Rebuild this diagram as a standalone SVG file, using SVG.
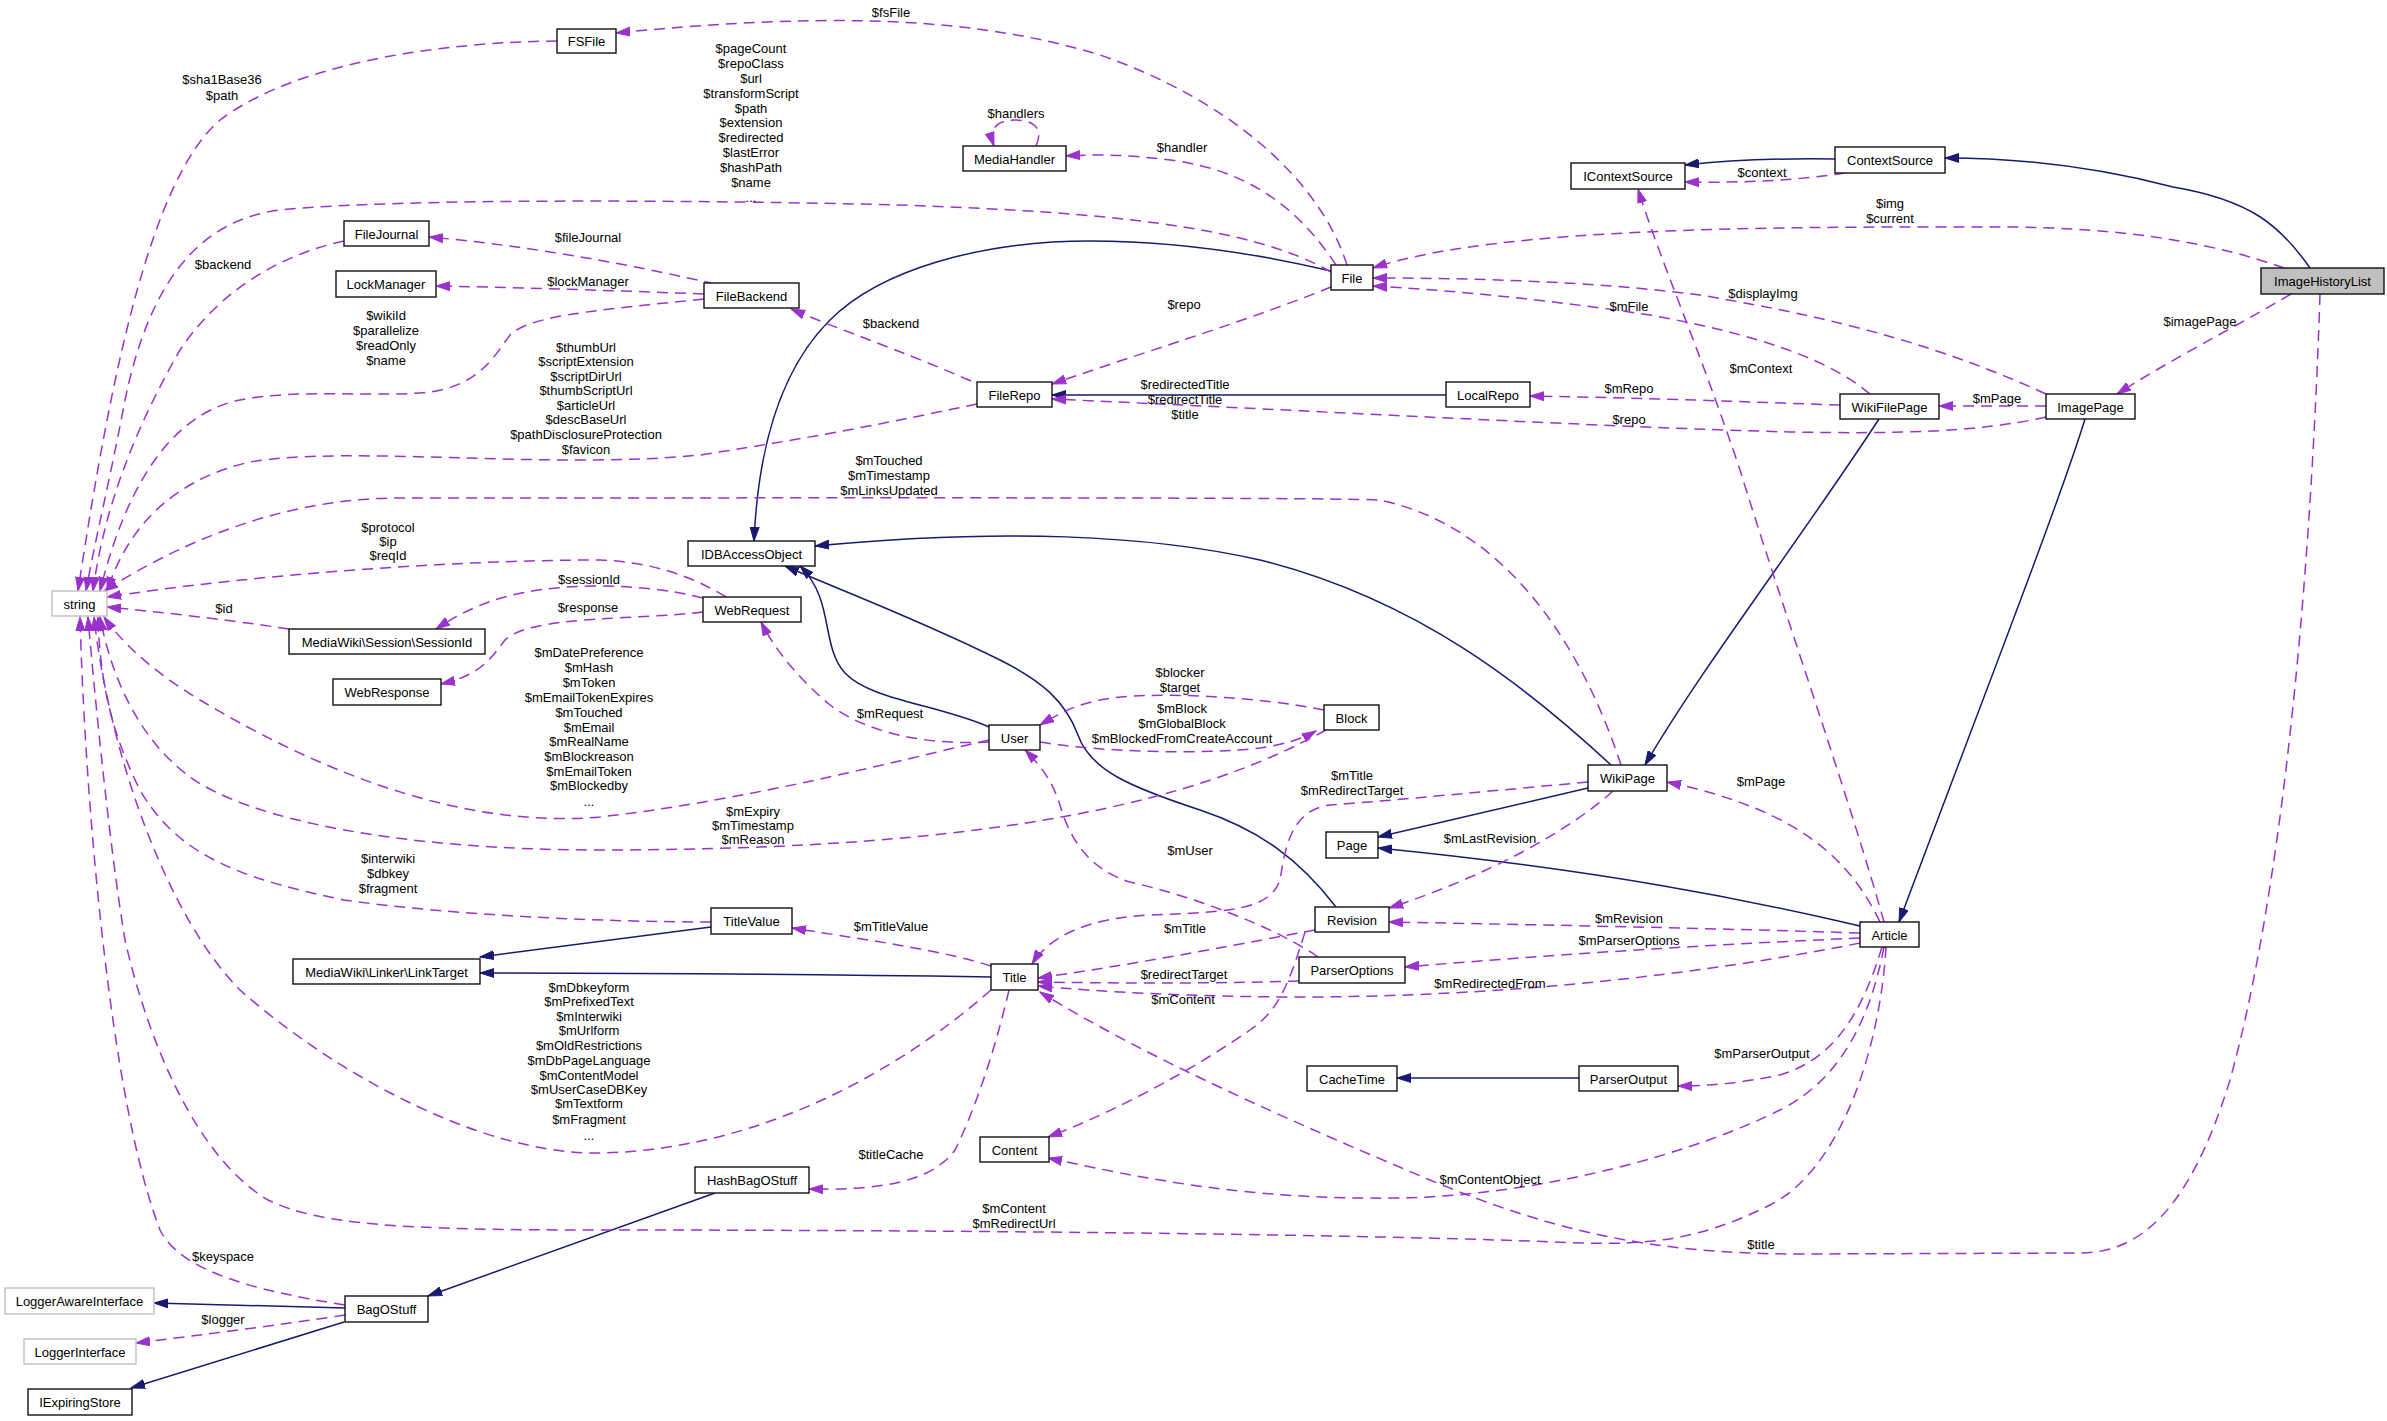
<svg xmlns="http://www.w3.org/2000/svg" width="2387" height="1421" viewBox="0 0 2387 1421">
<defs>
<style>
.node rect{fill:#fff;stroke:#111;stroke-width:1.4}
.node.ext rect{stroke:#bfbfbf}
.node.main rect{fill:#bfbfbf}
text{font-family:"Liberation Sans",Arial,sans-serif;font-size:13px;fill:#000;text-anchor:middle}
.inh{fill:none;stroke:#191970;stroke-width:1.5;marker-end:url(#an)}
.use{fill:none;stroke:#9a32cd;stroke-width:1.5;stroke-dasharray:11,7;marker-end:url(#ap)}
</style>
<marker id="an" markerUnits="userSpaceOnUse" markerWidth="15" markerHeight="10" refX="14" refY="5" orient="auto"><path d="M0,0.5 L14,5 L0,9.5 z" fill="#191970" stroke="#191970" stroke-width="1"/></marker>
<marker id="ap" markerUnits="userSpaceOnUse" markerWidth="15" markerHeight="10" refX="14" refY="5" orient="auto"><path d="M0,0.5 L14,5 L0,9.5 z" fill="#9a32cd" stroke="#9a32cd" stroke-width="1"/></marker>
</defs>
<rect width="2387" height="1421" fill="#fff"/>
<g id="edges">
<path class="inh" d="M1835,159 C1770,158 1730,160 1685,165"/>
<path class="inh" d="M2310,268 C2280,225 2250,200 2173,187 C2100,168 2020,158 1945,158"/>
<path class="inh" d="M1331,271 C1250,252 1170,241 1090,241 C980,241 880,270 830,320 C780,370 758,450 754,541"/>
<path class="inh" d="M1611,765 C1530,690 1420,600 1260,560 C1150,535 1000,528 815,546"/>
<path class="inh" d="M989,727 C940,705 870,700 845,673 C820,645 835,600 800,566"/>
<path class="inh" d="M1336,907 C1300,860 1260,830 1200,810 C1130,787 1090,770 1078,735 C1065,700 1040,680 1000,660 C920,620 840,590 785,566"/>
<path class="inh" d="M1879,419 C1800,540 1700,670 1645,765"/>
<path class="inh" d="M2085,419 C2060,500 1990,680 1899,922"/>
<path class="inh" d="M1588,788 L1378,837"/>
<path class="inh" d="M1860,926 C1750,900 1600,870 1378,848"/>
<path class="inh" d="M711,927 L480,957"/>
<path class="inh" d="M991,977 C850,975 700,973 480,973"/>
<path class="inh" d="M1579,1078 L1397,1078"/>
<path class="inh" d="M715,1193 L428,1296"/>
<path class="inh" d="M345,1308 L154,1303"/>
<path class="inh" d="M344,1322 L131,1388"/>
<path class="inh" d="M1446,395 L1052,395"/>

<path class="use" d="M1347,265 C1320,180 1230,100 1100,55 C960,12 800,15 616,33"/>
<path class="use" d="M1336,265 C1300,210 1250,170 1170,160 C1130,155 1100,154 1066,156"/>
<path class="use" d="M1036,146 C1045,126 1030,120 1015,120 C998,120 988,128 994,146"/>
<path class="use" d="M1331,272 C1250,225 1100,212 900,205 C700,200 400,198 280,210 C200,220 150,280 125,400 C110,480 95,540 86,591"/>
<path class="use" d="M557,41 C450,42 300,60 220,120 C150,180 110,380 78,591"/>
<path class="use" d="M344,241 C280,255 220,290 180,350 C140,420 105,500 93,591"/>
<path class="use" d="M715,284 C620,262 520,245 429,237"/>
<path class="use" d="M704,294 C600,290 500,287 436,286"/>
<path class="use" d="M704,299 C600,310 530,315 510,335 C495,355 480,385 430,392 C380,398 300,388 240,400 C180,412 130,470 100,591"/>
<path class="use" d="M971,381 C900,350 840,330 791,309"/>
<path class="use" d="M1331,287 C1250,320 1150,350 1052,384"/>
<path class="use" d="M977,404 C900,420 830,435 700,455 C550,470 350,445 250,462 C180,478 130,520 107,591"/>
<path class="use" d="M1840,405 C1750,402 1650,398 1530,396"/>
<path class="use" d="M2046,417 C1980,432 1900,434 1790,432 C1600,427 1300,410 1052,399"/>
<path class="use" d="M1845,173 C1800,180 1750,183 1685,182"/>
<path class="use" d="M2284,268 C2220,245 2130,227 2000,227 C1800,227 1500,225 1373,268"/>
<path class="use" d="M2046,394 C1950,350 1850,320 1700,295 C1600,282 1480,278 1373,278"/>
<path class="use" d="M1870,394 C1830,360 1760,335 1650,315 C1550,300 1450,290 1373,286"/>
<path class="use" d="M2291,294 C2230,330 2170,360 2117,394"/>
<path class="use" d="M2046,406 L1939,406"/>
<path class="use" d="M1884,922 C1850,800 1780,600 1740,470 C1700,350 1660,260 1638,189"/>
<path class="use" d="M1621,765 C1590,670 1520,530 1380,500 C1300,497 800,498 400,498 C300,498 200,530 104,591"/>
<path class="use" d="M726,597 C690,575 650,562 600,560 C450,560 250,575 107,597"/>
<path class="use" d="M703,598 C670,590 640,586 590,586 C520,588 480,600 436,629"/>
<path class="use" d="M703,612 C640,620 530,615 505,640 C490,660 480,675 441,684"/>
<path class="use" d="M289,629 C230,620 160,612 107,607"/>
<path class="use" d="M989,742 C930,745 870,735 830,705 C800,680 775,650 761,622"/>
<path class="use" d="M989,740 C900,760 750,800 600,817 C450,830 300,760 200,700 C150,670 120,640 104,617"/>
<path class="use" d="M1326,730 C1200,800 1000,850 600,850 C400,850 250,820 190,777 C140,740 112,680 100,617"/>
<path class="use" d="M1040,742 C1100,752 1200,755 1260,748 C1285,744 1300,740 1316,731"/>
<path class="use" d="M1324,710 C1260,697 1150,690 1100,700 C1075,705 1060,713 1040,725"/>
<path class="use" d="M1318,957 C1280,930 1200,898 1130,882 C1090,870 1070,840 1060,805 C1052,780 1040,765 1025,750"/>
<path class="use" d="M1588,782 C1500,790 1400,800 1330,805 C1290,810 1285,850 1280,880 C1270,910 1230,912 1150,915 C1090,918 1050,935 1032,964"/>
<path class="use" d="M1613,791 C1570,830 1490,875 1389,908"/>
<path class="use" d="M1880,922 C1850,860 1800,810 1667,782"/>
<path class="use" d="M1860,933 C1700,928 1550,925 1389,922"/>
<path class="use" d="M1860,938 C1700,945 1550,955 1405,967"/>
<path class="use" d="M1860,943 C1700,975 1500,997 1300,997 C1200,997 1100,992 1038,986"/>
<path class="use" d="M1315,930 C1250,942 1150,962 1038,978"/>
<path class="use" d="M1299,981 C1200,984 1100,983 1038,982"/>
<path class="use" d="M1305,932 C1290,980 1280,1010 1250,1030 C1200,1065 1120,1110 1048,1137"/>
<path class="use" d="M2320,294 C2310,600 2280,900 2230,1080 C2190,1210 2140,1253 2080,1253 L1800,1254 C1650,1254 1550,1230 1430,1180 C1300,1125 1150,1060 1040,992"/>
<path class="use" d="M1884,947 C1870,1020 1840,1080 1780,1110 C1700,1150 1550,1195 1400,1198 C1250,1200 1150,1180 1048,1158"/>
<path class="use" d="M1882,947 C1860,1020 1830,1060 1780,1075 C1740,1083 1710,1086 1678,1086"/>
<path class="use" d="M1886,947 C1880,1050 1840,1170 1770,1205 C1700,1240 1650,1245 1580,1243 C1400,1235 1000,1230 600,1230 C400,1230 320,1225 268,1200 C200,1160 150,1050 125,940 C110,850 95,700 88,617"/>
<path class="use" d="M991,990 C900,1070 760,1150 600,1153 C480,1155 330,1070 240,990 C170,920 110,760 94,617"/>
<path class="use" d="M711,922 C600,922 450,915 344,900 C250,880 180,860 140,790 C110,730 100,680 98,617"/>
<path class="use" d="M991,966 C940,950 880,942 792,928"/>
<path class="use" d="M1009,990 C995,1050 975,1110 955,1150 C930,1185 870,1190 809,1189"/>
<path class="use" d="M345,1305 C250,1290 180,1270 160,1230 C110,1100 85,800 80,617"/>
<path class="use" d="M345,1315 C280,1325 200,1335 136,1343"/>
</g>
<g id="edge-labels">
<text x="891" y="17">$fsFile</text>
<text x="1016" y="118">$handlers</text>
<text x="1182" y="152">$handler</text>
<text x="751" y="53">$pageCount</text>
<text x="751" y="68">$repoClass</text>
<text x="751" y="83">$url</text>
<text x="751" y="98">$transformScript</text>
<text x="751" y="113">$path</text>
<text x="751" y="127">$extension</text>
<text x="751" y="142">$redirected</text>
<text x="751" y="157">$lastError</text>
<text x="751" y="172">$hashPath</text>
<text x="751" y="187">$name</text>
<text x="751" y="202">...</text>
<text x="222" y="84">$sha1Base36</text>
<text x="222" y="100">$path</text>
<text x="223" y="269">$backend</text>
<text x="588" y="242">$fileJournal</text>
<text x="588" y="286">$lockManager</text>
<text x="386" y="320">$wikiId</text>
<text x="386" y="335">$parallelize</text>
<text x="386" y="350">$readOnly</text>
<text x="386" y="365">$name</text>
<text x="891" y="328">$backend</text>
<text x="1184" y="309">$repo</text>
<text x="586" y="352">$thumbUrl</text>
<text x="586" y="366">$scriptExtension</text>
<text x="586" y="381">$scriptDirUrl</text>
<text x="586" y="395">$thumbScriptUrl</text>
<text x="586" y="410">$articleUrl</text>
<text x="586" y="424">$descBaseUrl</text>
<text x="586" y="439">$pathDisclosureProtection</text>
<text x="586" y="454">$favicon</text>
<text x="1185" y="389">$redirectedTitle</text>
<text x="1185" y="404">$redirectTitle</text>
<text x="1185" y="419">$title</text>
<text x="1629" y="393">$mRepo</text>
<text x="1629" y="424">$repo</text>
<text x="1762" y="177">$context</text>
<text x="1890" y="208">$img</text>
<text x="1890" y="223">$current</text>
<text x="1763" y="298">$displayImg</text>
<text x="1629" y="311">$mFile</text>
<text x="2200" y="326">$imagePage</text>
<text x="1997" y="403">$mPage</text>
<text x="1761" y="373">$mContext</text>
<text x="889" y="465">$mTouched</text>
<text x="889" y="480">$mTimestamp</text>
<text x="889" y="495">$mLinksUpdated</text>
<text x="388" y="532">$protocol</text>
<text x="388" y="546">$ip</text>
<text x="388" y="560">$reqId</text>
<text x="589" y="584">$sessionId</text>
<text x="588" y="612">$response</text>
<text x="224" y="613">$id</text>
<text x="890" y="718">$mRequest</text>
<text x="589" y="657">$mDatePreference</text>
<text x="589" y="672">$mHash</text>
<text x="589" y="687">$mToken</text>
<text x="589" y="702">$mEmailTokenExpires</text>
<text x="589" y="717">$mTouched</text>
<text x="589" y="732">$mEmail</text>
<text x="589" y="746">$mRealName</text>
<text x="589" y="761">$mBlockreason</text>
<text x="589" y="776">$mEmailToken</text>
<text x="589" y="790">$mBlockedby</text>
<text x="589" y="806">...</text>
<text x="1180" y="677">$blocker</text>
<text x="1180" y="692">$target</text>
<text x="1182" y="713">$mBlock</text>
<text x="1182" y="728">$mGlobalBlock</text>
<text x="1182" y="743">$mBlockedFromCreateAccount</text>
<text x="753" y="816">$mExpiry</text>
<text x="753" y="830">$mTimestamp</text>
<text x="753" y="844">$mReason</text>
<text x="1352" y="780">$mTitle</text>
<text x="1352" y="795">$mRedirectTarget</text>
<text x="1761" y="786">$mPage</text>
<text x="1490" y="843">$mLastRevision</text>
<text x="1190" y="855">$mUser</text>
<text x="388" y="863">$interwiki</text>
<text x="388" y="878">$dbkey</text>
<text x="388" y="893">$fragment</text>
<text x="891" y="931">$mTitleValue</text>
<text x="1185" y="933">$mTitle</text>
<text x="1629" y="923">$mRevision</text>
<text x="1629" y="945">$mParserOptions</text>
<text x="1184" y="979">$redirectTarget</text>
<text x="1490" y="988">$mRedirectedFrom</text>
<text x="1183" y="1004">$mContent</text>
<text x="589" y="992">$mDbkeyform</text>
<text x="589" y="1006">$mPrefixedText</text>
<text x="589" y="1021">$mInterwiki</text>
<text x="589" y="1035">$mUrlform</text>
<text x="589" y="1050">$mOldRestrictions</text>
<text x="589" y="1065">$mDbPageLanguage</text>
<text x="589" y="1080">$mContentModel</text>
<text x="589" y="1094">$mUserCaseDBKey</text>
<text x="589" y="1108">$mTextform</text>
<text x="589" y="1124">$mFragment</text>
<text x="589" y="1140">...</text>
<text x="1762" y="1058">$mParserOutput</text>
<text x="891" y="1159">$titleCache</text>
<text x="1490" y="1184">$mContentObject</text>
<text x="1014" y="1213">$mContent</text>
<text x="1014" y="1228">$mRedirectUrl</text>
<text x="1761" y="1249">$title</text>
<text x="223" y="1261">$keyspace</text>
<text x="223" y="1324">$logger</text>
</g>
<g id="node-FSFile" class="node"><rect x="557" y="29" width="59" height="24"/><text x="586.5" y="46">FSFile</text></g>
<g id="node-MediaHandler" class="node"><rect x="963" y="146" width="103" height="25"/><text x="1014.5" y="163.5">MediaHandler</text></g>
<g id="node-FileJournal" class="node"><rect x="344" y="221" width="85" height="25"/><text x="386.5" y="238.5">FileJournal</text></g>
<g id="node-LockManager" class="node"><rect x="336" y="271" width="100" height="26"/><text x="386" y="289">LockManager</text></g>
<g id="node-FileBackend" class="node"><rect x="704" y="283" width="95" height="25"/><text x="751.5" y="300.5">FileBackend</text></g>
<g id="node-FileRepo" class="node"><rect x="977" y="382" width="75" height="25"/><text x="1014.5" y="399.5">FileRepo</text></g>
<g id="node-File" class="node"><rect x="1331" y="265" width="42" height="25"/><text x="1352" y="282.5">File</text></g>
<g id="node-IContextSource" class="node"><rect x="1571" y="163" width="114" height="26"/><text x="1628" y="181">IContextSource</text></g>
<g id="node-ContextSource" class="node"><rect x="1835" y="147" width="110" height="26"/><text x="1890" y="165">ContextSource</text></g>
<g id="node-ImageHistoryList" class="node main"><rect x="2261" y="268" width="123" height="26"/><text x="2322.5" y="286">ImageHistoryList</text></g>
<g id="node-LocalRepo" class="node"><rect x="1446" y="382" width="84" height="25"/><text x="1488" y="399.5">LocalRepo</text></g>
<g id="node-WikiFilePage" class="node"><rect x="1840" y="394" width="99" height="25"/><text x="1889.5" y="411.5">WikiFilePage</text></g>
<g id="node-ImagePage" class="node"><rect x="2046" y="394" width="89" height="25"/><text x="2090.5" y="411.5">ImagePage</text></g>
<g id="node-string" class="node ext"><rect x="52" y="591" width="55" height="25"/><text x="79.5" y="608.5">string</text></g>
<g id="node-SessionId" class="node"><rect x="289" y="629" width="196" height="25"/><text x="387" y="646.5">MediaWiki\Session\SessionId</text></g>
<g id="node-WebResponse" class="node"><rect x="333" y="679" width="108" height="26"/><text x="387" y="697">WebResponse</text></g>
<g id="node-WebRequest" class="node"><rect x="703" y="597" width="98" height="25"/><text x="752" y="614.5">WebRequest</text></g>
<g id="node-IDBAccessObject" class="node"><rect x="688" y="541" width="127" height="25"/><text x="751.5" y="558.5">IDBAccessObject</text></g>
<g id="node-User" class="node"><rect x="989" y="725" width="51" height="25"/><text x="1014.5" y="742.5">User</text></g>
<g id="node-Block" class="node"><rect x="1324" y="705" width="55" height="25"/><text x="1351.5" y="722.5">Block</text></g>
<g id="node-WikiPage" class="node"><rect x="1588" y="765" width="79" height="26"/><text x="1627.5" y="783">WikiPage</text></g>
<g id="node-Page" class="node"><rect x="1326" y="832" width="52" height="26"/><text x="1352" y="850">Page</text></g>
<g id="node-Revision" class="node"><rect x="1315" y="907" width="74" height="25"/><text x="1352" y="924.5">Revision</text></g>
<g id="node-Article" class="node"><rect x="1860" y="922" width="59" height="25"/><text x="1889.5" y="939.5">Article</text></g>
<g id="node-TitleValue" class="node"><rect x="711" y="908" width="81" height="26"/><text x="751.5" y="926">TitleValue</text></g>
<g id="node-LinkTarget" class="node"><rect x="293" y="959" width="187" height="25"/><text x="386.5" y="976.5">MediaWiki\Linker\LinkTarget</text></g>
<g id="node-Title" class="node"><rect x="991" y="964" width="47" height="26"/><text x="1014.5" y="982">Title</text></g>
<g id="node-ParserOptions" class="node"><rect x="1299" y="957" width="106" height="26"/><text x="1352" y="975">ParserOptions</text></g>
<g id="node-CacheTime" class="node"><rect x="1307" y="1066" width="90" height="25"/><text x="1352" y="1083.5">CacheTime</text></g>
<g id="node-ParserOutput" class="node"><rect x="1579" y="1066" width="99" height="25"/><text x="1628.5" y="1083.5">ParserOutput</text></g>
<g id="node-Content" class="node"><rect x="980" y="1137" width="69" height="25"/><text x="1014.5" y="1154.5">Content</text></g>
<g id="node-HashBagOStuff" class="node"><rect x="695" y="1167" width="114" height="26"/><text x="752" y="1185">HashBagOStuff</text></g>
<g id="node-BagOStuff" class="node"><rect x="345" y="1296" width="83" height="26"/><text x="386.5" y="1314">BagOStuff</text></g>
<g id="node-LoggerAwareInterface" class="node ext"><rect x="5" y="1288" width="149" height="26"/><text x="79.5" y="1306">LoggerAwareInterface</text></g>
<g id="node-LoggerInterface" class="node ext"><rect x="24" y="1339" width="112" height="25"/><text x="80" y="1356.5">LoggerInterface</text></g>
<g id="node-IExpiringStore" class="node"><rect x="28" y="1389" width="104" height="26"/><text x="80" y="1407">IExpiringStore</text></g>
</svg>
